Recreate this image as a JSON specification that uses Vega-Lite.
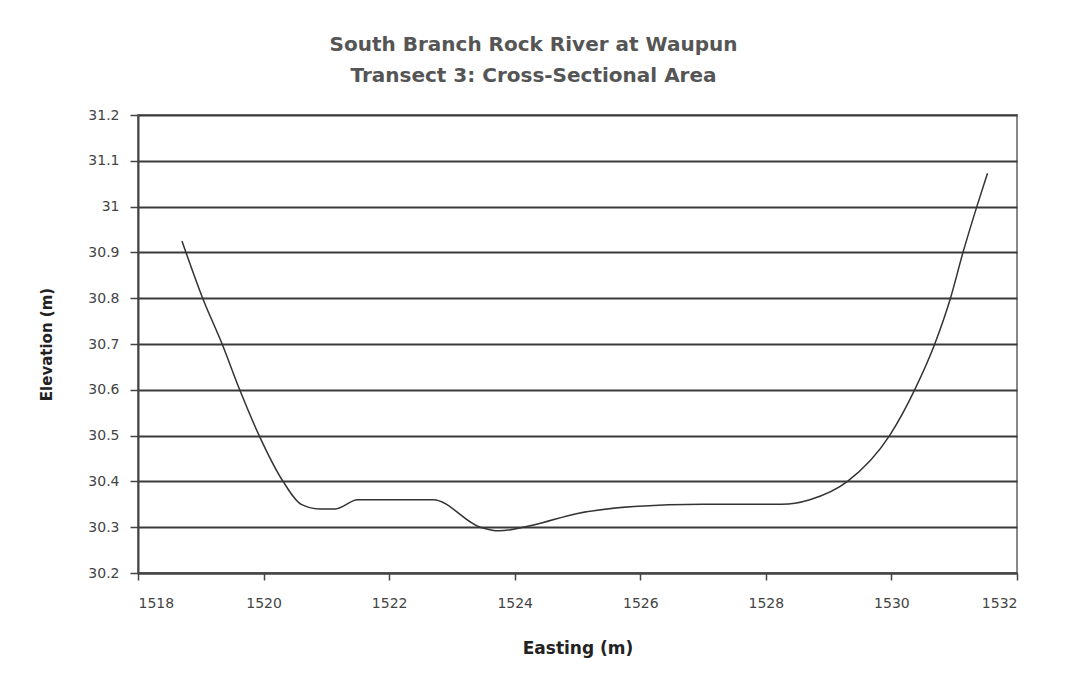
{
  "$schema": "https://vega.github.io/schema/vega-lite/v6.json",
  "width": 879,
  "height": 458,
  "autosize": {"type": "none"},
  "padding": {"left": 138, "top": 115, "right": 48, "bottom": 111},
  "background": "white",
  "title": {
    "text": ["South Branch Rock River at Waupun", "Transect 3: Cross-Sectional Area"],
    "anchor": "middle",
    "frame": "group",
    "dx": -44,
    "offset": 22,
    "fontSize": 20,
    "lineHeight": 31,
    "font": "DejaVu Sans",
    "fontWeight": "bold",
    "color": "#555555"
  },
  "data": {
    "values": [
      {"easting": 1518.7, "elevation": 30.925},
      {"easting": 1519.03, "elevation": 30.8},
      {"easting": 1519.34, "elevation": 30.7},
      {"easting": 1519.62, "elevation": 30.6},
      {"easting": 1519.93, "elevation": 30.5},
      {"easting": 1520.31, "elevation": 30.4},
      {"easting": 1520.6, "elevation": 30.35},
      {"easting": 1520.9, "elevation": 30.34},
      {"easting": 1521.14, "elevation": 30.34},
      {"easting": 1521.5, "elevation": 30.36},
      {"easting": 1522.7, "elevation": 30.36},
      {"easting": 1523.45, "elevation": 30.3},
      {"easting": 1523.75, "elevation": 30.292},
      {"easting": 1524.3, "elevation": 30.305},
      {"easting": 1525.0, "elevation": 30.33},
      {"easting": 1525.9, "elevation": 30.345},
      {"easting": 1527.0, "elevation": 30.35},
      {"easting": 1528.25, "elevation": 30.35},
      {"easting": 1528.7, "elevation": 30.36},
      {"easting": 1529.3, "elevation": 30.4},
      {"easting": 1529.97, "elevation": 30.5},
      {"easting": 1530.37, "elevation": 30.6},
      {"easting": 1530.69, "elevation": 30.7},
      {"easting": 1530.94, "elevation": 30.8},
      {"easting": 1531.14, "elevation": 30.9},
      {"easting": 1531.36, "elevation": 31.0},
      {"easting": 1531.53, "elevation": 31.073}
    ]
  },
  "mark": {"type": "line", "interpolate": "monotone", "color": "#333333", "strokeWidth": 1.5},
  "encoding": {
    "x": {
      "field": "easting",
      "type": "quantitative",
      "scale": {"domain": [1518, 1532], "nice": false, "zero": false},
      "axis": {
        "title": "Easting (m)",
        "values": [1518, 1520, 1522, 1524, 1526, 1528, 1530, 1532],
        "format": "d",
        "grid": false,
        "tickSize": 7,
        "tickColor": "#444444",
        "tickWidth": 1.5,
        "domainColor": "#444444",
        "domainWidth": 2,
        "labelPadding": 16,
        "labelFontSize": 14,
        "labelFont": "DejaVu Sans",
        "labelColor": "#444444",
        "titleFont": "DejaVu Sans",
        "titleFontSize": 17,
        "titleFontWeight": "bold",
        "titleColor": "#222222",
        "titlePadding": 30
      }
    },
    "y": {
      "field": "elevation",
      "type": "quantitative",
      "scale": {"domain": [30.2, 31.2], "nice": false, "zero": false},
      "axis": {
        "title": "Elevation (m)",
        "values": [30.2, 30.3, 30.4, 30.5, 30.6, 30.7, 30.8, 30.9, 31.0, 31.1, 31.2],
        "format": "~g",
        "grid": true,
        "gridColor": "#3a3a3a",
        "gridWidth": 2,
        "gridOpacity": 1,
        "tickSize": 8,
        "tickColor": "#444444",
        "tickWidth": 1.5,
        "domainColor": "#444444",
        "domainWidth": 2,
        "labelPadding": 11,
        "labelFontSize": 14,
        "labelFont": "DejaVu Sans",
        "labelColor": "#444444",
        "titleFont": "DejaVu Sans",
        "titleFontSize": 15,
        "titleFontWeight": "bold",
        "titleColor": "#222222",
        "titlePadding": 33
      }
    }
  },
  "config": {
    "view": {"stroke": "#888888", "strokeWidth": 2}
  }
}
